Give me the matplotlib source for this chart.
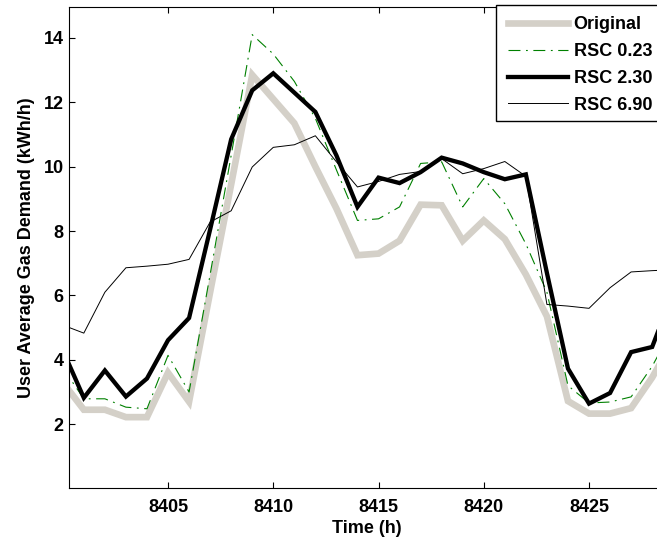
import matplotlib
matplotlib.use("Agg")
import matplotlib.pyplot as plt
from matplotlib.patches import Rectangle

plt.rcParams['font.family'] = ['Liberation Sans', 'DejaVu Sans']
plt.rcParams['font.weight'] = 'bold'
plt.rcParams['lines.scale_dashes'] = False

hours = list(range(8400, 8430))

original = [3.3, 2.45, 2.45, 2.22, 2.22, 3.6, 2.7, 6.1, 9.45, 12.85,
            12.1, 11.35, 10.0, 8.7, 7.25, 7.3, 7.7, 8.82, 8.8, 7.7,
            8.33, 7.75, 6.65, 5.35, 2.72, 2.33, 2.33, 2.5, 3.45, 4.6]

rsc_023 = [3.75, 2.79, 2.79, 2.53, 2.48, 4.14, 3.0, 6.65, 10.35, 14.1,
           13.5, 12.65, 11.5, 9.9, 8.33, 8.38, 8.75, 10.1, 10.15, 8.75,
           9.63, 8.85, 7.6, 6.1, 3.2, 2.66, 2.69, 2.85, 3.8, 5.0]

rsc_230 = [4.3, 2.82, 3.67, 2.86, 3.42, 4.61, 5.3, 8.05, 10.85, 12.37,
           12.9, 12.3, 11.7, 10.35, 8.75, 9.66, 9.49, 9.83, 10.28, 10.1,
           9.83, 9.61, 9.76, 6.7, 3.73, 2.64, 2.97, 4.24, 4.4, 6.1]

rsc_690 = [5.08, 4.83, 6.1, 6.86, 6.91, 6.97, 7.12, 8.28, 8.63, 9.99,
           10.6, 10.68, 10.96, 10.15, 9.37, 9.54, 9.76, 9.85, 10.25, 9.78,
           9.94, 10.16, 9.7, 5.72, 5.67, 5.6, 6.24, 6.73, 6.77, 6.8]

labels = ['Original', 'RSC 0.23', 'RSC 2.30', 'RSC 6.90']
xticks = [8405, 8410, 8415, 8420, 8425]
yticks = [2, 4, 6, 8, 10, 12, 14]

W, H = 657, 542
fig = plt.figure(figsize=(W / 100, H / 100), dpi=100)
ax_l, ax_r, ax_t, ax_b = 69.3, 665.0, 7.3, 488.3
ax = fig.add_axes([ax_l / W, 1 - ax_b / H, (ax_r - ax_l) / W, (ax_b - ax_t) / H])

l0, = ax.plot(hours, original, color='#D4D0C8', lw=4.8, solid_joinstyle='miter', label=labels[0])
l1, = ax.plot(hours, rsc_023, color='#008000', lw=0.8, label=labels[1])
l1.set_dashes([8.6, 4.0, 1.3, 4.0])
l2, = ax.plot(hours, rsc_230, color='black', lw=3.1, solid_joinstyle='miter', label=labels[2])
l3, = ax.plot(hours, rsc_690, color='black', lw=0.7, label=labels[3])

ax.set_xticks(xticks)
ax.set_yticks(yticks)
ax.set_xlim(8400.31, 8428.61)
ax.set_ylim(0.01, 14.95)
ax.tick_params(axis='both', direction='in', length=4.5, width=0.8, labelsize=13,
               top=True, right=True)
ax.tick_params(axis='x', pad=8)
ax.tick_params(axis='y', pad=4)
for s in ax.spines.values():
    s.set_linewidth(0.8)

ax.set_xlabel('Time (h)', fontsize=13, fontweight='bold')
ax.xaxis.set_label_coords(0.5, -0.065)
ax.set_ylabel('User Average Gas Demand (kWh/h)', fontsize=13, fontweight='bold')
ax.yaxis.set_label_coords(-0.058, 0.5)

# legend (frame drawn separately)
leg = fig.legend(handles=[l0, l1, l2, l3], labels=labels, loc='upper left',
                 bbox_to_anchor=(508 / W, 1 - 16.0 / H), bbox_transform=fig.transFigure,
                 frameon=False, borderpad=0, borderaxespad=0, handlelength=60 / 18,
                 handletextpad=0.3, labelspacing=0.55, prop={'size': 13, 'weight': 'bold'})
frame = Rectangle((495.5 / W, 1 - 121 / H), (720 - 495.5) / W, (121 - 5.5) / H,
                  transform=fig.transFigure, facecolor='white', edgecolor='black',
                  linewidth=1.0, zorder=leg.get_zorder() - 0.5)
fig.add_artist(frame)

fig.savefig('out.png', dpi=100)
